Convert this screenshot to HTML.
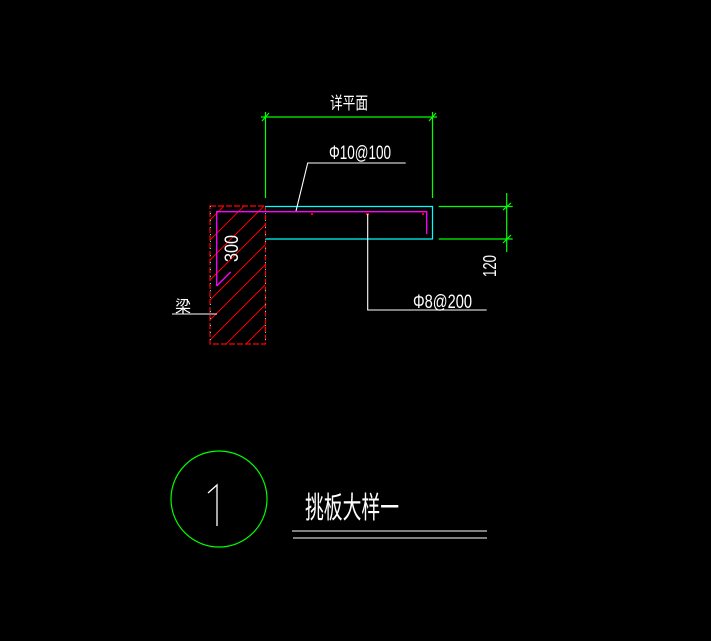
<!DOCTYPE html>
<html><head><meta charset="utf-8"><style>html,body{margin:0;padding:0;background:#000;}svg{display:block}</style></head>
<body>
<svg width="711" height="641" viewBox="0 0 711 641" xmlns="http://www.w3.org/2000/svg" font-family="Liberation Sans, Noto Sans CJK SC, sans-serif">
<rect width="711" height="641" fill="#000"/>
<defs><clipPath id="c"><rect x="210" y="206" width="55" height="138"/></clipPath></defs>
<g clip-path="url(#c)" stroke="#e00" stroke-width="1">
<path d="M150 300 L270 180 M150 320 L270 200 M150 340 L270 220 M150 360 L270 240 M150 380 L270 260 M150 400 L270 280 M150 420 L270 300 M150 440 L270 320 M150 460 L270 340 M150 480 L270 360 M150 280 L270 160 M150 260 L270 140"/>
</g>
<rect x="210" y="206" width="55.5" height="138" fill="none" stroke="#f00" stroke-width="1.2" stroke-dasharray="6 2"/>
<line x1="210.5" y1="206" x2="210.5" y2="344" stroke="#0ff" stroke-dasharray="1 6"/>
<line x1="265.5" y1="206" x2="265.5" y2="344" stroke="#0ff" stroke-dasharray="1 6"/>
<path d="M265.5 206.5 H432.5 V239 H265.5" fill="none" stroke="#0ff" stroke-width="1.2"/>
<path d="M216.7 286 V211.7 H426.7 V234 M216.7 286 L230.7 272" fill="none" stroke="#f0f" stroke-width="1.3"/>
<rect x="311" y="213" width="2" height="2" fill="#f00"/><rect x="366" y="213" width="3" height="2" fill="#f00"/><rect x="422" y="213" width="2" height="2" fill="#f00"/>
<g stroke="#0f0" stroke-width="1.2" fill="none">
<path d="M265.5 112 V198 M432.5 112 V198 M261 117 H437 M262 121 L269 113 M429 121 L436 113"/>
<path d="M438.7 206.5 H512.7 M438.7 239 H512.7 M506.7 193 V252 M503 210 L511 203 M503 243 L511 235"/>
</g>
<g stroke="#fff" stroke-width="1.1" fill="none">
<path d="M405.7 163 H307.7 L296 211"/>
<path d="M367.7 214 V310 H486.7"/>
<path d="M172 314 H217"/>
<path d="M292 531 H487 M293 538 H487"/>
</g>
<circle cx="219" cy="499" r="48" fill="none" stroke="#0f0" stroke-width="1.2"/>
<g fill="#fff">
<text x="330" y="109" font-size="17" textLength="38" lengthAdjust="spacingAndGlyphs">详平面</text>
<text x="329" y="159" font-size="19" textLength="62" lengthAdjust="spacingAndGlyphs">Φ10@100</text>
<text x="413" y="308" font-size="19" textLength="59" lengthAdjust="spacingAndGlyphs">Φ8@200</text>
<text transform="translate(238,262) rotate(-90)" font-size="19" textLength="27" lengthAdjust="spacingAndGlyphs">300</text>
<text transform="translate(496,277) rotate(-90)" font-size="18" textLength="22" lengthAdjust="spacingAndGlyphs">120</text>
<text x="175" y="312" font-size="16">梁</text>
<text x="305" y="518" font-size="30" textLength="94" lengthAdjust="spacingAndGlyphs">挑板大样一</text>
</g>
<path d="M208 493 L217 485 V526" stroke="#fff" stroke-width="1.3" fill="none"/>
</svg>
</body></html>
